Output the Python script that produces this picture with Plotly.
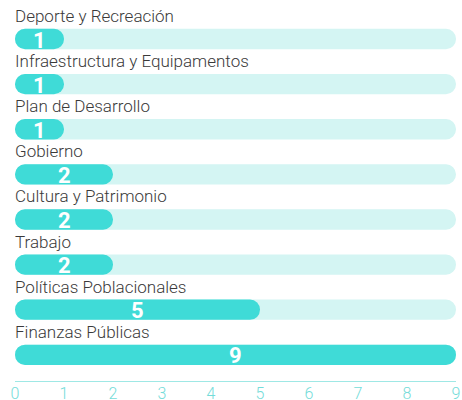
import plotly.graph_objects as go

categories = ["Deporte y Recreación", "Infraestructura y Equipamentos", "Plan de Desarrollo",
              "Gobierno", "Cultura y Patrimonio", "Trabajo", "Políticas Poblacionales", "Finanzas Públicas"]
values = [1, 1, 1, 2, 2, 2, 5, 9]
max_value = 9
tick_values = list(range(0, 10))

idx = list(range(len(categories)))
BAR = "#3fdbd7"
TRACK = "#d4f5f3"
W = 0.45

fig = go.Figure()
# background track (floating bars with explicit base get all corners rounded)
fig.add_trace(go.Bar(y=idx, x=[max_value] * len(idx), base=[0] * len(idx), orientation="h",
                     width=W, yaxis="y",
                     marker=dict(color=TRACK, cornerradius="50%", line=dict(width=0)),
                     hoverinfo="skip", showlegend=False))
# values
fig.add_trace(go.Bar(y=idx, x=values, base=[0] * len(idx), orientation="h", width=W, yaxis="y2",
                     marker=dict(color=BAR, cornerradius="50%", line=dict(width=0)),
                     showlegend=False))

for i, (c, v) in enumerate(zip(categories, values)):
    fig.add_annotation(x=0, y=i - 0.51, xref="x", yref="y", text=c, showarrow=False,
                       xanchor="left", yanchor="middle", xshift=-2,
                       font=dict(family="Roboto", size=17, color="#3a3a3a", weight=300))
    fig.add_annotation(x=v / 2, y=i, xref="x", yref="y", text=f"<b>{v}</b>", showarrow=False,
                       xanchor="center", yanchor="middle", yshift=-1,
                       font=dict(family="Roboto", size=22, color="white"))

yrange = [7.58, -0.865]
ycommon = dict(range=yrange, showticklabels=False, showgrid=False, zeroline=False, fixedrange=True)
fig.update_layout(
    width=462, height=400,
    margin=dict(l=15, r=6, t=0, b=19),
    barmode="overlay",
    plot_bgcolor="white", paper_bgcolor="white",
    font=dict(family="Roboto"),
    xaxis=dict(range=[0, 9], tickvals=tick_values, showgrid=False, zeroline=False,
               showline=True, linecolor="#9fe8e5", linewidth=1, automargin=False,
               tickfont=dict(family="Roboto", size=16, color="#74dcd9", weight=300), ticks="",
               ticklabelstandoff=-2, fixedrange=True),
    yaxis=dict(**ycommon),
    yaxis2=dict(**ycommon, overlaying="y"),
)
fig.write_html("out.html", post_script="document.body.style.margin='0';",
               config={"displayModeBar": False})
